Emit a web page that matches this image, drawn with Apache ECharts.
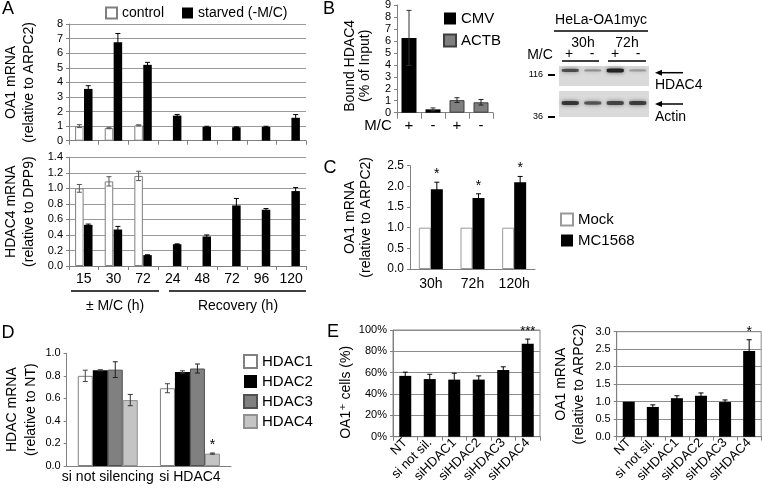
<!DOCTYPE html>
<html><head><meta charset="utf-8">
<script src="https://cdn.jsdelivr.net/npm/echarts@6/dist/echarts.min.js"></script>
<style>html,body{margin:0;padding:0;background:#fff}#c{width:762px;height:489px}</style>
</head><body><div id="c"></div>
<script>
// ---------- DATA ----------
const aCats = ['15','30','72','24','48','72','96','120'];
const aTopControl    = [1.0, 0.87, 1.05, null, null, null, null, null];
const aTopControlErr = [0.10, 0.05, 0.04, null, null, null, null, null];
const aTopStarved    = [3.55, 6.75, 5.2, 1.72, 0.95, 0.92, 0.95, 1.57];
const aTopStarvedErr = [0.22, 0.6, 0.17, 0.08, 0.04, 0.03, 0.04, 0.22];
const aBotControl    = [1.0, 1.09, 1.16, null, null, null, null, null];
const aBotControlErr = [0.05, 0.06, 0.06, null, null, null, null, null];
const aBotStarved    = [0.53, 0.47, 0.14, 0.28, 0.38, 0.78, 0.725, 0.965];
const aBotStarvedErr = [0.01, 0.04, 0.005, 0.005, 0.02, 0.09, 0.015, 0.045];

const bCats = ['+','-','+','-'];
const bCMV     = [6.25, 0.28, null, null];
const bCMVErr  = [2.3, 0.12, null, null];
const bACTB    = [null, null, 1.05, 0.87];
const bACTBErr = [null, null, 0.2, 0.23];

const blotLanes = ['30h +','30h -','72h +','72h -'];
const hdac4Band = [0.7, 0.35, 1.0, 0.3];
const actinBand = [0.85, 0.65, 0.75, 0.8];

const cCats = ['30h','72h','120h'];
const cMock = [1.0, 1.0, 1.0];
const cMC   = [1.93, 1.72, 2.1];
const cMCErr = [0.17, 0.1, 0.14];
const cStars = ['*','*','*'];

const dCats = ['si not silencing','si HDAC4'];
const dHDAC1 = [0.80, 0.69];  const dHDAC1Err = [0.05, 0.04];
const dHDAC2 = [0.85, 0.835]; const dHDAC2Err = [0.005, 0.01];
const dHDAC3 = [0.855, 0.865]; const dHDAC3Err = [0.07, 0.04];
const dHDAC4 = [0.585, 0.11]; const dHDAC4Err = [0.05, 0.005];
const dStars4 = ['', '*'];

const eCats = ['NT','si not sil.','siHDAC1','siHDAC2','siHDAC3','siHDAC4'];
const eCells    = [57, 54, 53.5, 53.5, 62.5, 87];
const eCellsErr = [3.5, 4.5, 6, 3.5, 3, 4.5];
const eCellsStars = ['','','','','','***'];
const eMRNA    = [1.0, 0.85, 1.1, 1.17, 0.99, 2.45];
const eMRNAErr = [0, 0.06, 0.07, 0.08, 0.06, 0.32];
const eMRNAStars = ['','','','','','*'];

// ---------- HELPERS ----------
const FF = "'Liberation Sans', Arial, 'DejaVu Sans', sans-serif";
const AX = '#808080';
function grid(l, t, w, h, extra) {
  return Object.assign({left: l, top: t, width: w, height: h, outerBoundsMode: 'none', containLabel: false}, extra || {});
}
function xCat(gi, data, o) {
  o = o || {};
  return {
    type: 'category', gridIndex: gi, data: data,
    axisLine: {show: true, lineStyle: {color: AX, width: 1}},
    axisTick: {show: o.ticks !== false, length: o.tickLen || 4, interval: 0, lineStyle: {color: AX}},
    axisLabel: o.label === false ? {show: false} : Object.assign({show: true, interval: 0, color: '#000', fontFamily: FF, fontSize: o.fs || 14, margin: o.margin || 6}, o.labelExtra || {}),
    splitLine: {show: false}
  };
}
function yVal(gi, min, max, step, o) {
  o = o || {};
  return {
    type: 'value', gridIndex: gi, min: min, max: max, interval: step,
    axisLine: {show: true, lineStyle: {color: AX, width: 1}},
    axisTick: {show: true, length: 3, lineStyle: {color: AX}},
    axisLabel: {color: '#000', fontFamily: FF, fontSize: o.fs || 11, margin: 6, formatter: o.fmt},
    splitLine: {show: !!o.split, lineStyle: {color: o.splitColor || '#9a9a9a', width: 1}},
    name: o.name, nameLocation: 'middle', nameRotate: 90, nameGap: o.gap,
    nameTextStyle: Object.assign({color: '#000', fontFamily: FF, fontSize: o.nfs || 14, lineHeight: o.lh || 17}, o.nameExtra || {})
  };
}
function bar(gi, name, data, w, gap, color, border) {
  return {
    type: 'bar', name: name, xAxisIndex: gi, yAxisIndex: gi, data: data,
    barWidth: w, barGap: gap, z: 2,
    itemStyle: {color: color, borderColor: border || color, borderWidth: border ? 1 : 0}
  };
}
function errs(gi, vals, es, n, idx, w, gap, color, stars, fs) {
  const data = [];
  vals.forEach(function (v, i) { if (v != null && es[i] != null && es[i] > 0) data.push([i, v, es[i]]); });
  return {
    type: 'custom', xAxisIndex: gi, yAxisIndex: gi, z: 6, silent: true, data: data,
    encode: {x: 0, y: 1},
    renderItem: function (params, api) {
      const i = api.value(0), v = api.value(1), e = api.value(2);
      const total = n * w + (n - 1) * gap * w;
      const off = -total / 2 + idx * (w + gap * w) + w / 2;
      const x = api.coord([i, v])[0] + off;
      const top = api.coord([i, v + e])[1];
      const bot = api.coord([i, Math.max(v - e, 0)])[1];
      const cap = 2.5;
      const st = {stroke: color, lineWidth: 1};
      const ch = [
        {type: 'line', shape: {x1: x, y1: top, x2: x, y2: bot}, style: st},
        {type: 'line', shape: {x1: x - cap, y1: top, x2: x + cap, y2: top}, style: st},
        {type: 'line', shape: {x1: x - cap, y1: bot, x2: x + cap, y2: bot}, style: st}
      ];
      if (stars && stars[i]) {
        ch.push({type: 'text', x: x, y: top - 1, style: {text: stars[i], align: 'center', verticalAlign: 'bottom', font: (fs || 13) + 'px ' + FF, fill: '#000'}});
      }
      return {type: 'group', children: ch};
    }
  };
}
function blot(gi, name, bands, yPos, thick) {
  return {
    type: 'scatter', name: name, xAxisIndex: gi, yAxisIndex: gi, z: 3, silent: true,
    symbol: 'roundRect',
    symbolSize: function (v) { return [17, thick + 2.5 * v[2]]; },
    data: bands.map(function (b, i) { return {value: [i, yPos, b], itemStyle: {opacity: b}}; }),
    itemStyle: {color: '#222', shadowBlur: 4, shadowColor: 'rgba(0,0,0,0.6)'}
  };
}
function txt(x, y, s, fs, align, extra) {
  return {type: 'text', x: x, y: y, silent: true, style: Object.assign({text: s, align: align || 'center', verticalAlign: 'middle', font: fs + 'px ' + FF, fill: '#000'}, extra || {})};
}
function ln(x1, y1, x2, y2, w) {
  return {type: 'line', silent: true, shape: {x1: x1, y1: y1, x2: x2, y2: y2}, style: {stroke: '#000', lineWidth: w || 1.3}};
}
function arrow(x1, x2, y) {
  return {type: 'group', silent: true, children: [
    {type: 'line', shape: {x1: x1, y1: y, x2: x2 + 5, y2: y}, style: {stroke: '#000', lineWidth: 1.5}},
    {type: 'polygon', shape: {points: [[x2, y], [x2 + 7, y - 3], [x2 + 7, y + 3]]}, style: {fill: '#000'}}
  ]};
}

const f1 = function (v) { return v.toFixed(1); };
const legendBase = {icon: 'rect', itemWidth: 12, itemHeight: 12, textStyle: {color: '#000', fontFamily: FF, fontSize: 15}, selectedMode: false};

const option = {
  animation: false,
  backgroundColor: '#fff',
  textStyle: {fontFamily: FF},
  grid: [
    grid(69, 24, 237, 116.7),          // 0 A top
    grid(69, 157.3, 237, 108.7),       // 1 A bottom
    grid(397, 5, 96, 107.7),           // 2 B
    grid(559, 66, 90, 20, {show: true, backgroundColor: '#dadada', borderWidth: 0}),   // 3 blot HDAC4
    grid(559, 91, 90, 26, {show: true, backgroundColor: '#dadada', borderWidth: 0}),   // 4 blot actin
    grid(410, 165.7, 125, 103.3),      // 5 C
    grid(66.7, 353.3, 164.3, 112.7),   // 6 D
    grid(393, 330, 147, 106.7, {show: true, borderColor: '#8c8c8c', borderWidth: 1, backgroundColor: 'transparent'}),     // 7 E left
    grid(616.7, 331.7, 144.5, 105, {show: true, borderColor: '#8c8c8c', borderWidth: 1, backgroundColor: 'transparent'})  // 8 E right
  ],
  xAxis: [
    xCat(0, aCats, {label: false}),
    xCat(1, aCats, {fs: 14, margin: 6}),
    xCat(2, bCats, {fs: 15, margin: 6, tickLen: 6}),
    {type: 'category', gridIndex: 3, data: blotLanes, show: false},
    {type: 'category', gridIndex: 4, data: blotLanes, show: false},
    xCat(5, cCats, {fs: 14, margin: 8, ticks: false}),
    xCat(6, dCats, {fs: 14, margin: 4, ticks: false}),
    xCat(7, eCats, {fs: 13, margin: 4, labelExtra: {rotate: 45}}),
    xCat(8, eCats, {fs: 13, margin: 4, labelExtra: {rotate: 45}})
  ],
  yAxis: [
    yVal(0, 0, 8, 1, {split: true, name: 'OA1 mRNA\n(relative to ARPC2)', gap: 31, lh: 18, nfs: 14}),
    yVal(1, 0, 1.4, 0.2, {split: true, fmt: f1, name: 'HDAC4 mRNA\n(relative to DPP9)', gap: 31, lh: 18, nfs: 14}),
    yVal(2, 0, 9, 1, {name: 'Bound HDAC4\n(% of Input)', gap: 24, lh: 15, nfs: 14, nameExtra: {padding: [0, 14, 0, 0]}}),
    {type: 'value', gridIndex: 3, min: 0, max: 1, show: false},
    {type: 'value', gridIndex: 4, min: 0, max: 1, show: false},
    yVal(5, 0, 2.5, 0.5, {fmt: f1, fs: 12, name: 'OA1 mRNA\n(relative to ARPC2)', gap: 36, lh: 16, nfs: 14}),
    yVal(6, 0, 1.0, 0.2, {fmt: f1, name: 'HDAC mRNA\n(relative to NT)', gap: 26, lh: 19, nfs: 14}),
    yVal(7, 0, 100, 20, {split: true, splitColor: '#8c8c8c', fmt: function (v) { return v + '%'; }, name: 'OA1\u207A cells (%)', gap: 36, nfs: 14, nameExtra: {padding: [0, 18, 0, 0]}}),
    yVal(8, 0, 3.0, 0.5, {split: true, splitColor: '#8c8c8c', fmt: f1, name: 'OA1 mRNA\n(relative to ARPC2)', gap: 29, lh: 18, nfs: 14})
  ],
  legend: [
    Object.assign({}, legendBase, {data: ['control', 'starved (-M/C)'], left: 100, top: 1, orient: 'horizontal', itemGap: 18, itemWidth: 11, itemHeight: 11, textStyle: {color: '#000', fontFamily: FF, fontSize: 14}}),
    Object.assign({}, legendBase, {data: ['CMV', 'ACTB'], left: 438, top: 6, orient: 'vertical', itemGap: 7}),
    Object.assign({}, legendBase, {data: ['Mock', 'MC1568'], left: 555, top: 207, orient: 'vertical', itemGap: 6}),
    Object.assign({}, legendBase, {data: ['HDAC1', 'HDAC2', 'HDAC3', 'HDAC4'], left: 238, top: 349, orient: 'vertical', itemGap: 5, itemWidth: 13, itemHeight: 13})
  ],
  series: [
    // A top
    bar(0, 'control', aTopControl, 8.5, '5%', '#ffffff', '#7f7f7f'),
    bar(0, 'starved (-M/C)', aTopStarved, 8.5, '5%', '#000000'),
    errs(0, aTopControl, aTopControlErr, 2, 0, 8.5, 0.05, '#555'),
    errs(0, aTopStarved, aTopStarvedErr, 2, 1, 8.5, 0.05, '#000'),
    // A bottom
    bar(1, 'control', aBotControl, 8.5, '5%', '#ffffff', '#7f7f7f'),
    bar(1, 'starved (-M/C)', aBotStarved, 8.5, '5%', '#000000'),
    errs(1, aBotControl, aBotControlErr, 2, 0, 8.5, 0.05, '#555'),
    errs(1, aBotStarved, aBotStarvedErr, 2, 1, 8.5, 0.05, '#000'),
    // B
    bar(2, 'CMV', bCMV, 15, '-100%', '#000000'),
    bar(2, 'ACTB', bACTB, 15, '-100%', '#7f7f7f', '#3f3f3f'),
    errs(2, bCMV, bCMVErr, 1, 0, 15, 0, '#333'),
    errs(2, bACTB, bACTBErr, 1, 0, 15, 0, '#222'),
    // blot
    blot(3, 'HDAC4 blot', hdac4Band, 0.78, 1.5),
    blot(4, 'Actin blot', actinBand, 0.54, 2),
    // C
    bar(5, 'Mock', cMock, 12, '0%', '#ffffff', '#999999'),
    bar(5, 'MC1568', cMC, 12, '0%', '#000000'),
    errs(5, cMC, cMCErr, 2, 1, 12, 0, '#000', cStars, 14),
    // D
    bar(6, 'HDAC1', dHDAC1, 15, '0%', '#ffffff', '#808080'),
    bar(6, 'HDAC2', dHDAC2, 15, '0%', '#000000'),
    bar(6, 'HDAC3', dHDAC3, 15, '0%', '#808080', '#505050'),
    bar(6, 'HDAC4', dHDAC4, 15, '0%', '#c4c4c4', '#909090'),
    errs(6, dHDAC1, dHDAC1Err, 4, 0, 15, 0, '#444'),
    errs(6, dHDAC2, dHDAC2Err, 4, 1, 15, 0, '#444'),
    errs(6, dHDAC3, dHDAC3Err, 4, 2, 15, 0, '#222'),
    errs(6, dHDAC4, dHDAC4Err, 4, 3, 15, 0, '#333', dStars4, 14),
    // E left
    bar(7, 'OA1+ cells', eCells, 12, '0%', '#000000'),
    errs(7, eCells, eCellsErr, 1, 0, 12, 0, '#000', eCellsStars, 13),
    // E right
    bar(8, 'OA1 mRNA E', eMRNA, 12, '0%', '#000000'),
    errs(8, eMRNA, eMRNAErr, 1, 0, 12, 0, '#000', eMRNAStars, 14)
  ],
  graphic: [
    // panel letters
    txt(8, 9, 'A', 18), txt(329, 9, 'B', 18), txt(330, 168, 'C', 18), txt(8, 333, 'D', 18), txt(333, 332, 'E', 18),
    // A bottom annotations
    ln(71, 291, 159, 291), ln(169, 291, 306, 291),
    txt(115, 306, '\u00B1 M/C (h)', 14), txt(238, 306, 'Recovery (h)', 14),
    // B
    txt(378, 126, 'M/C', 15),
    // Western blot annotations
    txt(601, 20, 'HeLa-OA1myc', 14), ln(554, 31, 648, 31),
    txt(583, 43, '30h', 14), txt(627, 43, '72h', 14),
    txt(540, 55, 'M/C', 14),
    txt(569, 54, '+', 14), txt(592, 54, '-', 14), txt(615, 54, '+', 14), txt(638, 54, '-', 14),
    ln(562, 61, 599, 61), ln(608, 61, 646, 61),
    txt(543, 75, '116', 9, 'right'), ln(548, 75, 555, 75, 2),
    txt(543, 117, '36', 9, 'right'), ln(548, 117, 555, 117, 2),
    arrow(683, 655, 72.7), arrow(683, 655, 104),
    txt(655, 85, 'HDAC4', 14, 'left'), txt(655, 117, 'Actin', 14, 'left')
  ]
};
const chart = echarts.init(document.getElementById('c'), null, {renderer: 'canvas'});
chart.setOption(option);
</script>
</body></html>
